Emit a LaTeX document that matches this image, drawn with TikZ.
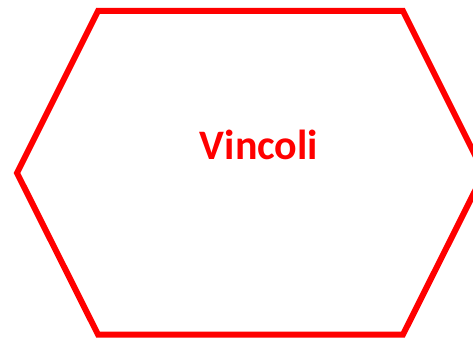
\documentclass[tikz,border=0pt]{standalone}
\usepackage{fontspec}
\setmainfont{Carlito}
\usepackage{xcolor}
\usetikzlibrary{positioning}
\definecolor{vred}{RGB}{255,0,0}

\begin{document}
\begin{tikzpicture}[
  x=1pt, y=1pt,
  hexline/.style={draw=vred, line width=6pt, line join=miter},
  title/.style={font=\fontsize{42}{46}\selectfont\bfseries, text=vred, inner sep=0pt}
]
  \useasboundingbox (0,0) rectangle (473,337);
  \clip (0,0) rectangle (473,337);

  % Hexagon outline
  \draw[hexline] (17,164) -- (98,326) -- (403,326) -- (484,164)
    -- (403,2.5) -- (98,2.5) -- cycle;

  % Label
  \node[title, anchor=base] (label) at (259,177) {Vincoli};

\end{tikzpicture}
\end{document}
